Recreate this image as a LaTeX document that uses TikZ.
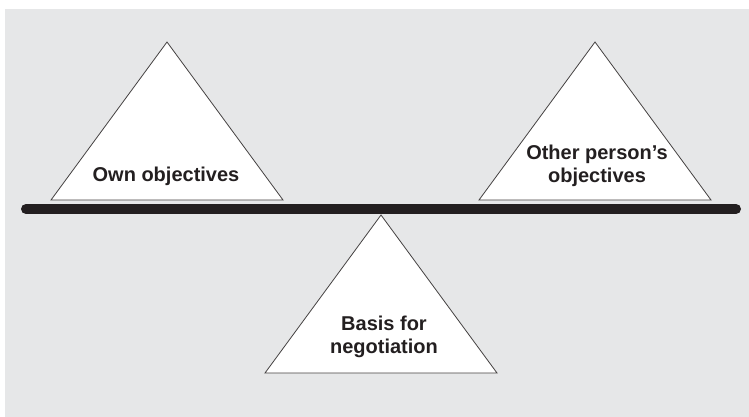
\documentclass[tikz,border=0pt]{standalone}
\usepackage{fontspec}
\setmainfont{Liberation Sans}
\usetikzlibrary{positioning}

\definecolor{bggray}{HTML}{E6E7E8}
\definecolor{inkdark}{HTML}{231F20}

\tikzset{
  tri/.style={draw=inkdark!85, fill=white, line width=0.8pt, line join=miter},
  beam/.style={draw=inkdark, line width=10pt, line cap=round},
  lbl/.style={align=center, text=inkdark, font=\bfseries\fontsize{20}{23.5}\selectfont, inner sep=0pt}
}

\begin{document}
\begin{tikzpicture}[x=1pt,y=-1pt]
	\useasboundingbox (0,0) rectangle (749,417);
	\fill[bggray] (5,9) rectangle (749,417);

	% Triangles (apex, then down to the base)
	\foreach \name/\ax/\ay in {own/167/42, other/595/42, basis/381/215} {
		\coordinate (\name) at (\ax,\ay);
		\draw[tri] (\name) -- ++(116,158) -- ++(-232,0) -- cycle;
	}

	% Balance beam
	\coordinate (beamL) at (26,209);
	\coordinate (beamR) at (736,209);
	\draw[beam] (beamL) -- (beamR);

	% Labels
	\node[lbl] (ownlbl) at (166,176) {Own objectives};
	\node[lbl] (otherlbl) at (597,166) {Other person's\\objectives};
	\node[lbl] (basislbl) at (384,337) {Basis for\\negotiation};

\end{tikzpicture}
\end{document}
